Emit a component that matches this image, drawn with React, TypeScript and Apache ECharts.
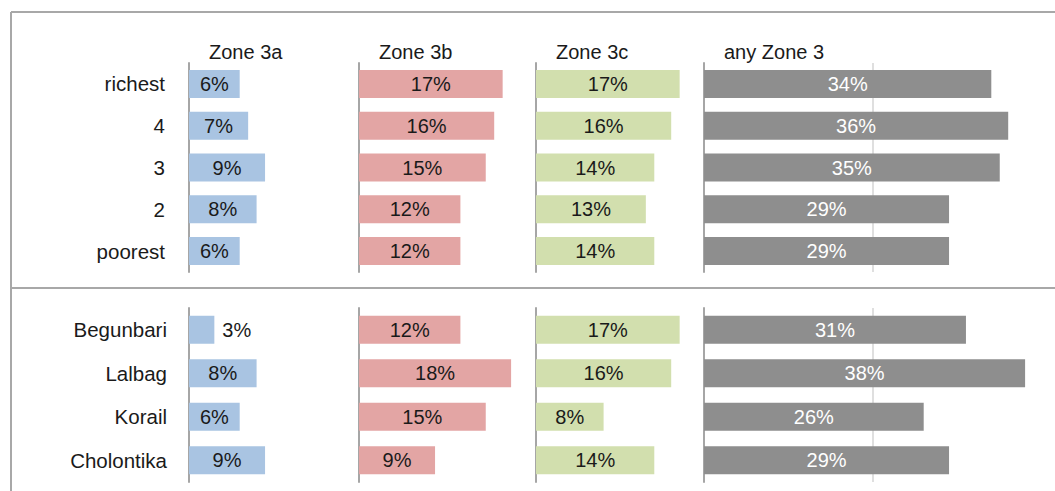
import React, { useEffect, useRef } from "react";
import * as echarts from "echarts";

const topCategories = ["richest", "4", "3", "2", "poorest"];
const bottomCategories = ["Begunbari", "Lalbag", "Korail", "Cholontika"];
const columnTitles = ["Zone 3a", "Zone 3b", "Zone 3c", "any Zone 3"];

const topZone3a = [6, 7, 9, 8, 6];
const topZone3b = [17, 16, 15, 12, 12];
const topZone3c = [17, 16, 14, 13, 14];
const topAnyZone3 = [34, 36, 35, 29, 29];

const bottomZone3a = [3, 8, 6, 9];
const bottomZone3b = [12, 18, 15, 9];
const bottomZone3c = [17, 16, 8, 14];
const bottomAnyZone3 = [31, 38, 26, 29];

const columnMax = [20, 20, 20, 40];
const referenceLineValue = 20;

const FONT = "'Liberation Sans', Arial, sans-serif";
const PX_PER_UNIT = 8.45;
const colLefts = [189, 359, 536, 704];
const colColors = ["#a9c4e2", "#e3a5a4", "#d2dfae", "#8e8e8e"];
const labelColors = ["#1a1a1a", "#1a1a1a", "#1a1a1a", "#ffffff"];
const panels = [
  { top: 63, height: 209, cats: topCategories, data: [topZone3a, topZone3b, topZone3c, topAnyZone3] },
  { top: 308, height: 174, cats: bottomCategories, data: [bottomZone3a, bottomZone3b, bottomZone3c, bottomAnyZone3] },
];

export default function App() {
  const ref = useRef<HTMLDivElement>(null);
  useEffect(() => {
    if (!ref.current) return;
    const chart = echarts.init(ref.current, null, { renderer: "svg" });
    const grid: any[] = [];
    const xAxis: any[] = [];
    const yAxis: any[] = [];
    const series: any[] = [];
    let idx = 0;
    panels.forEach((p, pi) => {
      for (let c = 0; c < 4; c++) {
        grid.push({
          left: colLefts[c],
          top: p.top,
          width: columnMax[c] * PX_PER_UNIT,
          height: p.height,
          containLabel: false,
        });
        xAxis.push({
          type: "value",
          gridIndex: idx,
          min: 0,
          max: columnMax[c],
          show: false,
          splitLine: { show: false },
        });
        yAxis.push({
          type: "category",
          gridIndex: idx,
          data: p.cats,
          inverse: true,
          axisLine: { show: true, lineStyle: { color: "#a6a6a6", width: 2 } },
          axisTick: { show: false },
          axisLabel: {
            show: c === 0,
            fontSize: 20.5,
            fontFamily: FONT,
            color: "#1a1a1a",
            margin: pi === 0 ? 24 : 22,
          },
          splitLine: { show: false },
        });
        if (c === 3) {
          series.push({
            type: "line",
            xAxisIndex: idx,
            yAxisIndex: idx,
            data: [],
            z: 0,
            markLine: {
              silent: true,
              z: 0,
              symbol: "none",
              label: { show: false },
              lineStyle: { color: "#d4d4d4", width: 1.5, type: "solid" },
              data: [{ xAxis: referenceLineValue }],
            },
          });
        }
        series.push({
          type: "bar",
          xAxisIndex: idx,
          yAxisIndex: idx,
          barWidth: 28,
          z: 3,
          itemStyle: { color: colColors[c] },
          data: p.data[c].map((v) => ({
            value: v,
            label: { position: v < 4 ? "right" : "inside", distance: 8 },
          })),
          label: {
            show: true,
            formatter: "{c}%",
            fontSize: 20,
            fontFamily: FONT,
            color: labelColors[c],
          },
        });
        idx++;
      }
    });

    const title = columnTitles.map((t, c) => ({
      text: t,
      left: colLefts[c] + 20,
      top: 42,
      padding: 0,
      textStyle: { fontSize: 20, fontWeight: "normal", fontFamily: FONT, color: "#1a1a1a" },
    }));

    chart.setOption({
      animation: false,
      backgroundColor: "#ffffff",
      title,
      grid,
      xAxis,
      yAxis,
      series,
      graphic: [
        { type: "line", shape: { x1: 11, y1: 12, x2: 1055, y2: 12 }, style: { stroke: "#a8a8a8", lineWidth: 2 } },
        { type: "line", shape: { x1: 11, y1: 288, x2: 1055, y2: 288 }, style: { stroke: "#a8a8a8", lineWidth: 2 } },
        { type: "line", shape: { x1: 11, y1: 12, x2: 11, y2: 491 }, style: { stroke: "#a8a8a8", lineWidth: 2 } },
      ],
    });
    return () => chart.dispose();
  }, []);
  return (
    <div
      ref={ref}
      style={{ position: "absolute", left: 0, top: 0, width: 1055, height: 491, background: "#fff" }}
    />
  );
}
